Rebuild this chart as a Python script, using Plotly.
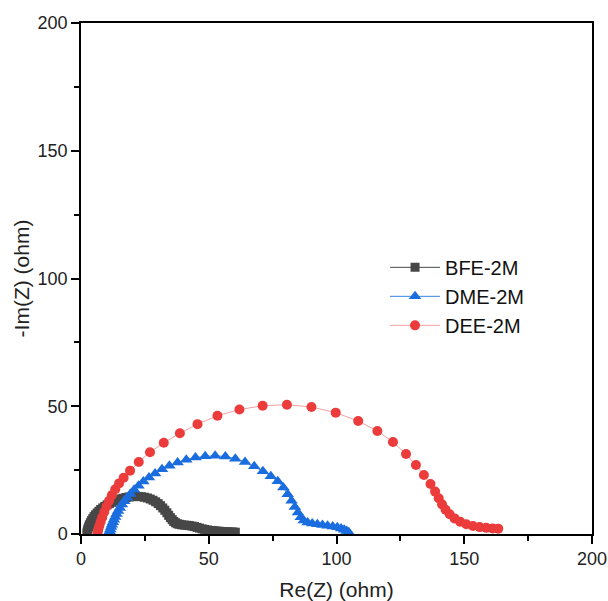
import plotly.graph_objects as go

# ---- data ----
bfe_x = [2.3, 2.5, 2.7, 3.0, 3.3, 3.7, 4.1, 4.6, 5.1, 5.7, 6.3, 7.0, 7.7, 8.5, 9.3, 10.2,
         11.1, 12.1, 13.1, 14.2, 15.3, 16.4, 17.6, 18.8, 20.0, 21.2, 22.4, 23.6, 24.8, 26.0,
         27.1, 28.2, 29.2, 30.2, 31.1, 32.0, 32.8, 33.6, 34.3, 35.0, 35.7, 36.3, 37.0, 37.7,
         38.5, 39.4, 40.4, 41.4, 42.4, 43.4, 44.4, 45.4, 46.4, 47.4, 48.4, 49.5, 50.6, 51.7,
         52.8, 53.9, 55.0, 56.1, 57.2, 58.3, 59.4, 60.4]
bfe_y = [0.4, 1.2, 2.0, 2.8, 3.6, 4.4, 5.2, 6.0, 6.8, 7.5, 8.2, 8.9, 9.6, 10.2, 10.8, 11.4,
         11.9, 12.4, 12.9, 13.3, 13.7, 14.0, 14.3, 14.5, 14.6, 14.7, 14.7, 14.6, 14.4, 14.1,
         13.7, 13.2, 12.6, 11.9, 11.1, 10.2, 9.3, 8.3, 7.3, 6.4, 5.6, 4.9, 4.4, 4.0,
         3.8, 3.6, 3.5, 3.4, 3.3, 3.1, 2.9, 2.6, 2.3, 2.0, 1.8, 1.6, 1.4, 1.3,
         1.2, 1.1, 1.0, 0.9, 0.9, 0.8, 0.8, 0.7]

dme_x = [11.0, 11.2, 11.5, 11.8, 12.1, 12.5, 12.9, 13.4, 13.9, 14.5, 15.2, 16.0, 16.9, 18.0,
         19.3, 20.8, 22.5, 24.4, 26.6, 29.0, 31.7, 34.6, 37.8, 41.2, 44.8, 48.6, 52.5, 56.5,
         60.4, 64.2, 67.8, 71.2, 74.3, 77.0, 79.2, 80.9, 82.4, 83.7, 84.9, 86.0, 87.2, 88.7,
         90.5, 92.5, 94.5, 96.5, 98.5, 100.3, 101.8, 103.0, 104.0, 104.8]
dme_y = [0.3, 1.0, 1.8, 2.7, 3.6, 4.6, 5.6, 6.7, 7.8, 9.0, 10.2, 11.5, 12.8, 14.2,
         15.7, 17.3, 18.9, 20.5, 22.1, 23.7, 25.3, 26.7, 28.0, 29.1, 29.9, 30.4, 30.6, 30.3,
         29.5, 28.2, 26.5, 24.6, 22.6, 20.6, 18.2, 15.6, 13.0, 10.6, 8.4, 6.6, 5.3, 4.5,
         4.1, 3.8, 3.5, 3.2, 2.9, 2.6, 2.2, 1.7, 1.2, 0.7]

dee_x = [6.5, 6.8, 7.2, 7.7, 8.3, 9.1, 10.0, 11.0, 12.1, 13.4, 14.9, 16.7, 19.2, 22.6, 27.0,
         32.4, 38.7, 45.6, 53.4, 62.0, 71.1, 80.6, 90.2, 99.7, 108.5, 116.0, 122.1, 127.2,
         131.1, 134.2, 136.8, 138.6, 140.0, 141.3, 142.7, 144.3, 146.2, 148.4, 150.8, 153.4,
         156.0, 158.6, 161.1, 163.3]
dee_y = [0.5, 1.8, 3.2, 4.8, 6.5, 8.6, 10.8, 13.0, 15.2, 17.5, 19.8, 22.0, 24.8, 28.2, 32.0,
         35.7, 39.4, 43.0, 46.3, 48.7, 50.2, 50.6, 49.7, 47.5, 44.2, 40.3, 36.0, 31.3,
         27.0, 23.1, 19.6, 16.6, 14.0, 11.6, 9.5, 7.7, 6.1, 4.8, 3.8, 3.1,
         2.7, 2.4, 2.2, 2.1]

names = ["BFE-2M", "DME-2M", "DEE-2M"]
tick_vals = [0, 50, 100, 150, 200]

FONT = "Arial, Liberation Sans, sans-serif"

fig = go.Figure()
fig.add_trace(go.Scatter(
    x=bfe_x, y=bfe_y, name=names[0], mode="lines+markers",
    line=dict(color="#474747", width=1),
    marker=dict(symbol="square", size=9, color="#474747")))
fig.add_trace(go.Scatter(
    x=dme_x, y=dme_y, name=names[1], mode="lines+markers",
    line=dict(color="#3a84e6", width=1),
    marker=dict(symbol="triangle-up", size=11, color="#1a6ddf")))
fig.add_trace(go.Scatter(
    x=dee_x, y=dee_y, name=names[2], mode="lines+markers",
    line=dict(color="#f2a0a0", width=1),
    marker=dict(symbol="circle", size=10, color="#ec3b3b")))

axis_common = dict(
    range=[0, 200], tickvals=tick_vals, ticktext=[str(v) for v in tick_vals],
    showgrid=False, zeroline=False, showline=True, linecolor="black", linewidth=1.5,
    mirror=True, ticks="outside", ticklen=8, tickwidth=1.5, tickcolor="black",
    automargin=False,
    tickfont=dict(family=FONT, size=18, color="#222222"),
    minor=dict(dtick=25, tick0=0, ticks="outside", ticklen=5, tickwidth=1.5,
               tickcolor="black", showgrid=False),
)

fig.update_layout(
    width=608, height=601,
    margin=dict(l=81, r=16, t=23, b=67, autoexpand=False),
    paper_bgcolor="white", plot_bgcolor="white",
    font=dict(family=FONT, color="#222222"),
    xaxis=dict(axis_common, title=dict(text="Re(Z) (ohm)", font=dict(family=FONT, size=21),
                                       standoff=14)),
    yaxis=dict(axis_common, title=dict(text="-Im(Z) (ohm)", font=dict(family=FONT, size=21),
                                       standoff=2)),
    legend=dict(x=0.595, y=0.560, xanchor="left", yanchor="top",
                font=dict(family=FONT, size=20, color="#111111"),
                bgcolor="rgba(0,0,0,0)", borderwidth=0, itemwidth=50,
                tracegroupgap=0),
    showlegend=True,
)

fig.write_html("out.html")
